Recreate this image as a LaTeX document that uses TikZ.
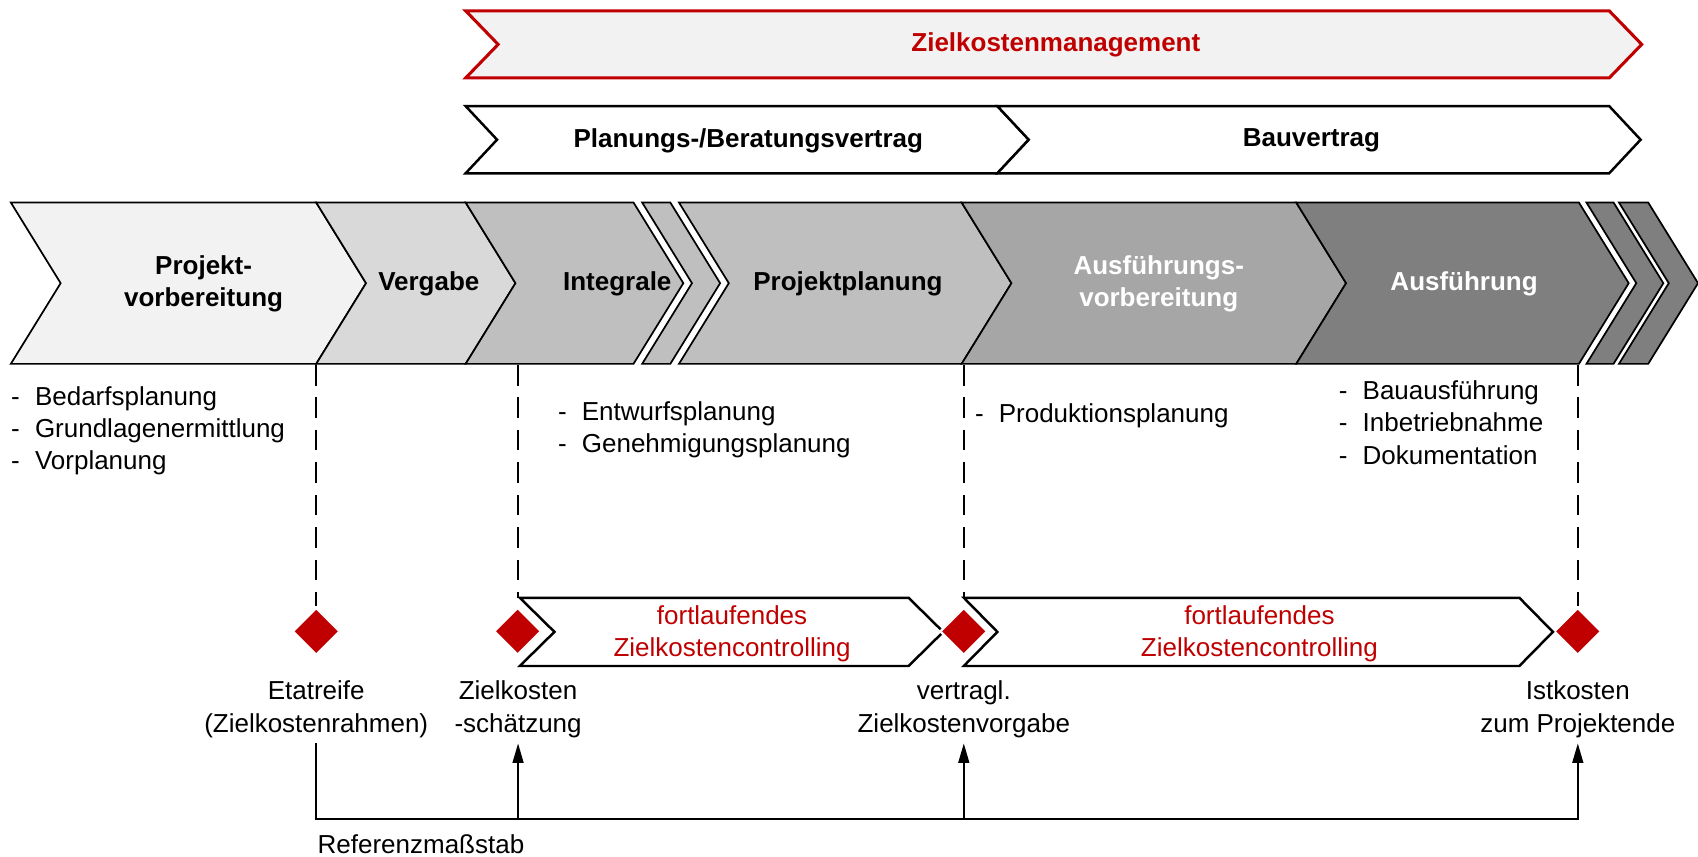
\documentclass[tikz,border=0pt]{standalone}
\usepackage{fontspec}
\setmainfont{Liberation Sans}
\usetikzlibrary{positioning,arrows.meta,shapes.geometric}

\definecolor{zkred}{HTML}{C00000}
\definecolor{g1}{HTML}{F2F2F2}
\definecolor{g2}{HTML}{D9D9D9}
\definecolor{g3}{HTML}{BFBFBF}
\definecolor{g4}{HTML}{A6A6A6}
\definecolor{g5}{HTML}{7F7F7F}

% [style]{left}{right}{top}{bottom}{depth}
\newcommand{\chev}[6][]{%
  \draw[#1] (#2,#4) -- (#3,#4) -- ({#3+#6},{(#4+#5)/2}) -- (#3,#5)
    -- (#2,#5) -- ({#2+#6},{(#4+#5)/2}) -- cycle;}

\begin{document}
\begin{tikzpicture}[
    x=0.02cm, y=-0.02cm,
    font=\fontsize{13.66}{17}\selectfont,
    phase/.style={draw, line width=0.9pt},
    frame/.style={draw, line width=1.3pt, fill=white},
    head/.style={font=\fontsize{13.66}{17}\selectfont\bfseries, align=center},
    headw/.style={head, text=white},
    redtext/.style={text=zkred, align=center},
    tasks/.style={anchor=base west, inner sep=0},
    ms/.style={diamond, fill=zkred, draw=white, line width=1.2pt, minimum width=0.88cm, minimum height=0.88cm, inner sep=0},
    mslabel/.style={align=center, inner sep=0.1cm},
    dline/.style={line width=1pt, dash pattern=on 0.38cm off 0.22cm},
    conn/.style={line width=1pt, -{Triangle[length=0.36cm, width=0.2cm]}}
]
\useasboundingbox (0,0) rectangle (1568,791);

% top arrows
\chev[draw=zkred, line width=1.6pt, fill=g1]{430}{1486}{10}{72}{30}
\node[head, text=zkred] (zkm) at (975,41) {Zielkostenmanagement};
\chev[frame]{430}{921}{98}{160}{29}
\chev[frame]{921}{1486}{98}{160}{29}
\node[head] (pbv) at (691,130) {Planungs-/Beratungsvertrag};
\node[head] (bv) at (1211,130) {Bauvertrag};

% phases
\chev[phase, fill=g1]{10}{292}{187}{336}{46}
\chev[phase, fill=g2]{292}{430}{187}{336}{46}
\chev[phase, fill=g3]{430}{585}{187}{336}{46}
\chev[phase, fill=g3]{593}{619}{187}{336}{46}
\chev[phase, fill=g3]{627}{888}{187}{336}{46}
\chev[phase, fill=g4]{888}{1197}{187}{336}{46}
\chev[phase, fill=g5]{1197}{1458}{187}{336}{46}
\chev[phase, fill=g5]{1465}{1490}{187}{336}{46}
\chev[phase, fill=g5]{1495}{1522}{187}{336}{46}
\node[head] (pv) at (188,262) {Projekt-\\vorbereitung};
\node[head] (vg) at (396,262) {Vergabe};
\node[head] (ig) at (570,262) {Integrale};
\node[head] (pp) at (783,262) {Projektplanung};
\node[headw] (av) at (1070,262) {Ausführungs-\\vorbereitung};
\node[headw] (af) at (1352,262) {Ausführung};

% tasks
\node[tasks] (t1) at (10,374) {\begin{tabular}[t]{@{}l@{\hspace{0.28cm}}l@{}}
  - & Bedarfsplanung\\ - & Grundlagenermittlung\\ - & Vorplanung\end{tabular}};
\node[tasks] (t2) at (515,388) {\begin{tabular}[t]{@{}l@{\hspace{0.28cm}}l@{}}
  - & Entwurfsplanung\\ - & Genehmigungsplanung\end{tabular}};
\node[tasks] (t3) at (900,390) {\begin{tabular}[t]{@{}l@{\hspace{0.28cm}}l@{}}
  - & Produktionsplanung\end{tabular}};
\node[tasks] (t4) at (1236,369) {\begin{tabular}[t]{@{}l@{\hspace{0.28cm}}l@{}}
  - & Bauausführung\\ - & Inbetriebnahme\\ - & Dokumentation\end{tabular}};

% milestones
\coordinate (bandbot) at (0,337);
\coordinate (zctop) at (0,552);
\node[ms] (m1) at (292,583) {};
\node[ms] (m2) at (478,583) {};
\node[ms] (m3) at (890,583) {};
\node[ms] (m4) at (1457,583) {};
\draw[dline] (m1.north |- bandbot) -- (m1.north);
\draw[dline] (m2.north |- bandbot) -- (m2.north |- zctop);
\draw[dline] (m3.north |- bandbot) -- (m3.north |- zctop);
\draw[dline] (m4.north |- bandbot) -- (m4.north);

% controlling
\chev[frame]{480}{839}{552}{615}{32}
\chev[frame]{890}{1403}{552}{615}{31}
\node[redtext] (zc1) at (676,585) {fortlaufendes\\Zielkostencontrolling};
\node[redtext] (zc2) at (1163,585) {fortlaufendes\\Zielkostencontrolling};
\node[ms] at (478,583) {};
\node[ms] at (890,583) {};

% milestone labels
\node[mslabel] (etat) at (292,655) {Etatreife\\(Zielkostenrahmen)};
\node[mslabel] (zks) at (478.4,655) {Zielkosten\\-schätzung};
\node[mslabel] (zkv) at (890,655) {vertragl.\\Zielkostenvorgabe};
\node[mslabel] (ist) at (1457,655) {Istkosten\\zum Projektende};

\coordinate (rb) at (1457,756);
\draw[conn] (etat.south) |- (rb) -- (ist.south);
\draw[conn] (zks.south |- rb) -- (zks.south);
\draw[conn] (zkv.south |- rb) -- (zkv.south);
\node[anchor=west, inner sep=0] (ref) at (293,780) {Referenzmaßstab};
\end{tikzpicture}
\end{document}
